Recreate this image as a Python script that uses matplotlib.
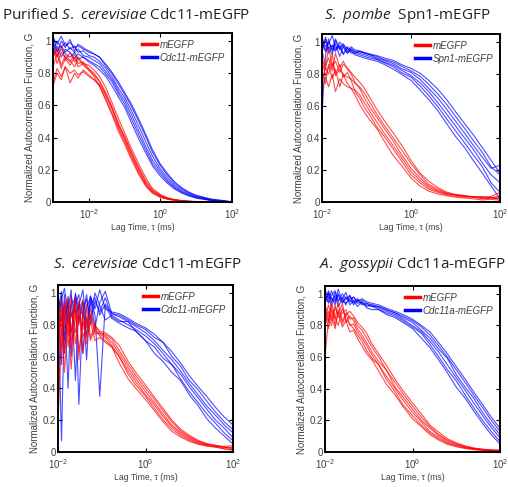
import matplotlib.pyplot as plt
from matplotlib.lines import Line2D

plt.rcParams['font.family'] = ['Liberation Sans', 'DejaVu Sans']
plt.rcParams['mathtext.fontset'] = 'custom'
plt.rcParams['mathtext.rm'] = 'Open Sans'
plt.rcParams['mathtext.it'] = 'Open Sans:italic'

# lag times (ms) of the correlator channels
lag_p1 = [0.001, 0.0013, 0.0017, 0.0022, 0.003, 0.004, 0.005, 0.007, 0.01, 0.014, 0.02, 0.03,
          0.045, 0.07, 0.1, 0.15, 0.25, 0.4, 0.6, 1.0, 1.6, 2.5, 4.0, 6.3, 10, 25, 100]
lag = [0.010, 0.012, 0.014, 0.017, 0.020, 0.025, 0.030, 0.037, 0.045, 0.055, 0.070, 0.090, 0.12, 0.17,
       0.25, 0.40, 0.60, 1.0, 1.6, 2.5, 4.0, 6.3, 10, 16, 25, 40, 63, 100]

# panel 1: purified S. cerevisiae Cdc11-mEGFP
p1_mEGFP = [
    [0.95,0.90,0.97,0.88,0.93,0.87,0.90,0.86,0.85,0.82,0.78,0.71,0.615,0.51,0.43,0.34,0.235,0.145,0.085,0.047,0.026,0.016,0.009,0.005,0.003,0.001,0.0],
    [0.84,0.92,0.83,0.89,0.85,0.90,0.84,0.86,0.82,0.79,0.75,0.68,0.59,0.48,0.41,0.32,0.215,0.128,0.075,0.041,0.023,0.014,0.008,0.0045,0.0025,0.001,0.0],
    [0.98,0.86,0.93,0.90,0.87,0.92,0.86,0.87,0.83,0.80,0.75,0.665,0.575,0.46,0.39,0.30,0.195,0.11,0.065,0.035,0.02,0.012,0.007,0.004,0.002,0.001,0.0],
    [0.74,0.83,0.78,0.84,0.80,0.82,0.79,0.81,0.78,0.76,0.72,0.64,0.55,0.445,0.375,0.285,0.18,0.10,0.058,0.031,0.018,0.011,0.006,0.0035,0.002,0.001,0.0],
    [0.90,0.95,0.85,0.91,0.88,0.84,0.89,0.85,0.82,0.78,0.72,0.63,0.54,0.43,0.36,0.27,0.17,0.095,0.055,0.029,0.017,0.01,0.006,0.003,0.0015,0.0005,0.0],
    [0.72,0.80,0.76,0.84,0.74,0.80,0.77,0.82,0.79,0.76,0.73,0.66,0.58,0.47,0.40,0.31,0.205,0.118,0.07,0.038,0.021,0.013,0.0075,0.004,0.002,0.001,0.0],
]
p1_septin = [
    [1.02,0.98,1.03,0.97,0.99,0.96,0.97,0.95,0.94,0.92,0.90,0.845,0.795,0.725,0.67,0.60,0.50,0.40,0.31,0.225,0.165,0.117,0.082,0.057,0.039,0.017,0.001],
    [0.95,1.00,0.96,0.99,0.95,0.97,0.93,0.94,0.91,0.90,0.875,0.83,0.775,0.70,0.65,0.575,0.47,0.37,0.285,0.205,0.15,0.105,0.073,0.051,0.034,0.014,0.0],
    [0.99,0.94,0.97,0.93,0.96,0.93,0.95,0.91,0.90,0.88,0.86,0.81,0.76,0.68,0.63,0.55,0.44,0.34,0.26,0.19,0.135,0.095,0.065,0.045,0.03,0.012,0.0],
    [0.92,0.97,0.90,0.95,0.93,0.89,0.92,0.90,0.88,0.86,0.84,0.795,0.745,0.665,0.61,0.525,0.415,0.32,0.24,0.175,0.125,0.087,0.06,0.041,0.027,0.011,0.0],
    [0.97,0.91,0.95,0.92,0.90,0.93,0.89,0.90,0.87,0.85,0.82,0.78,0.72,0.645,0.59,0.50,0.39,0.30,0.225,0.16,0.115,0.08,0.055,0.037,0.024,0.01,0.0],
    [1.04,0.93,1.00,0.96,1.01,0.94,0.98,0.96,0.93,0.92,0.90,0.855,0.805,0.74,0.68,0.615,0.515,0.415,0.325,0.235,0.175,0.125,0.088,0.061,0.042,0.019,0.002],
]

# panel 2: S. pombe Spn1-mEGFP
p2_mEGFP = [
    [0.80,0.74,0.86,0.77,0.83,0.72,0.80,0.74,0.71,0.67,0.61,0.56,0.51,0.46,0.38,0.29,0.23,0.15,0.10,0.068,0.05,0.04,0.03,0.025,0.02,0.012,0.018,0.01],
    [0.88,0.79,0.84,0.92,0.80,0.86,0.78,0.81,0.76,0.69,0.65,0.59,0.54,0.47,0.41,0.33,0.26,0.17,0.12,0.08,0.06,0.045,0.036,0.03,0.035,0.022,0.03,0.015],
    [0.70,0.78,0.72,0.80,0.69,0.77,0.74,0.72,0.71,0.70,0.67,0.62,0.565,0.50,0.43,0.35,0.28,0.19,0.135,0.09,0.066,0.05,0.045,0.04,0.03,0.035,0.025,0.04],
    [0.95,0.85,0.90,0.82,0.93,0.84,0.88,0.83,0.80,0.75,0.71,0.65,0.59,0.53,0.46,0.38,0.30,0.21,0.15,0.10,0.072,0.053,0.042,0.035,0.03,0.02,0.028,0.022],
    [0.76,0.84,0.80,0.87,0.79,0.83,0.80,0.78,0.77,0.74,0.72,0.68,0.62,0.55,0.48,0.40,0.33,0.24,0.17,0.11,0.08,0.057,0.044,0.036,0.03,0.027,0.02,0.03],
    [0.90,0.83,0.97,0.85,0.88,0.81,0.86,0.84,0.81,0.78,0.75,0.71,0.65,0.58,0.51,0.43,0.36,0.26,0.18,0.13,0.09,0.062,0.047,0.04,0.033,0.03,0.035,0.06],
]
p2_septin = [
    [0.55,0.92,1.02,0.94,0.99,0.91,0.97,0.93,0.95,0.92,0.91,0.90,0.89,0.88,0.86,0.83,0.80,0.76,0.70,0.64,0.57,0.49,0.41,0.34,0.26,0.18,0.10,0.02],
    [1.01,0.95,0.99,1.04,0.96,0.98,0.93,0.96,0.94,0.93,0.92,0.91,0.90,0.89,0.87,0.845,0.81,0.78,0.725,0.665,0.595,0.52,0.445,0.37,0.295,0.22,0.12,0.06],
    [0.93,1.03,0.96,0.98,0.94,1.00,0.97,0.93,0.96,0.94,0.93,0.92,0.91,0.895,0.875,0.855,0.825,0.79,0.745,0.69,0.62,0.55,0.475,0.40,0.33,0.245,0.17,0.12],
    [0.99,0.94,0.97,0.92,1.01,0.95,0.98,0.96,0.93,0.93,0.94,0.93,0.92,0.90,0.885,0.865,0.835,0.81,0.765,0.71,0.65,0.58,0.505,0.43,0.355,0.28,0.21,0.23],
    [0.96,1.02,0.93,0.98,0.95,0.97,0.92,0.97,0.95,0.94,0.94,0.93,0.92,0.91,0.89,0.875,0.85,0.82,0.785,0.735,0.675,0.61,0.535,0.46,0.385,0.31,0.22,0.17],
    [1.03,0.97,1.00,0.95,1.02,0.96,0.99,0.94,0.97,0.95,0.945,0.935,0.925,0.915,0.90,0.885,0.86,0.835,0.805,0.76,0.705,0.64,0.565,0.49,0.42,0.34,0.26,0.18],
]

# panel 3: S. cerevisiae Cdc11-mEGFP (in cells)
p3_mEGFP = [
    [0.15,0.85,0.62,0.93,0.70,0.98,0.58,0.88,0.74,0.82,0.70,0.72,0.69,0.66,0.56,0.46,0.40,0.33,0.26,0.19,0.13,0.095,0.067,0.048,0.037,0.03,0.02,0.015],
    [0.30,0.72,0.95,0.66,0.88,0.75,0.91,0.62,0.85,0.70,0.78,0.73,0.70,0.66,0.60,0.49,0.42,0.35,0.275,0.205,0.145,0.105,0.075,0.053,0.04,0.032,0.02,0.01],
    [0.55,0.96,0.78,0.86,0.52,0.90,0.80,0.96,0.68,0.84,0.76,0.74,0.72,0.67,0.60,0.51,0.44,0.36,0.295,0.225,0.16,0.115,0.082,0.058,0.044,0.036,0.03,0.025],
    [0.88,0.64,0.92,0.73,0.97,0.68,0.86,0.77,0.93,0.72,0.80,0.75,0.73,0.69,0.62,0.53,0.46,0.38,0.31,0.24,0.17,0.125,0.09,0.063,0.047,0.037,0.028,0.03],
    [0.70,0.90,0.50,0.84,0.76,0.94,0.63,0.82,0.78,0.90,0.74,0.75,0.74,0.71,0.64,0.55,0.48,0.40,0.33,0.26,0.19,0.135,0.097,0.068,0.05,0.04,0.035,0.04],
    [0.96,0.74,0.88,0.98,0.66,0.85,0.95,0.72,0.80,0.86,0.79,0.76,0.75,0.72,0.67,0.57,0.50,0.42,0.345,0.275,0.20,0.145,0.105,0.073,0.053,0.042,0.03,0.02],
]
p3_septin = [
    [0.98,0.07,0.85,0.95,0.60,1.00,0.82,0.94,0.72,0.98,0.86,0.35,0.92,0.84,0.81,0.78,0.76,0.70,0.62,0.57,0.50,0.45,0.36,0.29,0.21,0.15,0.10,0.05],
    [0.75,0.98,0.62,0.90,1.02,0.45,0.93,0.85,0.99,0.80,0.95,0.88,0.97,0.85,0.82,0.82,0.76,0.70,0.66,0.59,0.55,0.46,0.38,0.31,0.24,0.18,0.12,0.07],
    [0.94,0.55,0.99,0.80,0.92,0.97,0.30,0.90,0.96,0.84,1.00,0.92,0.83,0.86,0.83,0.80,0.77,0.73,0.68,0.62,0.55,0.49,0.41,0.34,0.27,0.20,0.15,0.09],
    [0.88,1.01,0.70,0.97,0.85,0.93,0.99,0.62,0.91,0.97,0.78,0.94,1.01,0.87,0.85,0.82,0.79,0.75,0.70,0.64,0.58,0.51,0.43,0.36,0.29,0.23,0.17,0.12],
    [1.00,0.82,0.94,0.40,0.98,0.87,0.92,1.02,0.80,0.93,0.97,0.86,0.93,0.87,0.86,0.83,0.80,0.77,0.72,0.69,0.60,0.54,0.45,0.39,0.32,0.25,0.19,0.14],
    [0.85,0.96,1.03,0.88,0.75,0.99,0.90,0.95,0.58,0.98,0.90,1.02,0.90,0.88,0.87,0.84,0.81,0.78,0.74,0.69,0.63,0.56,0.48,0.41,0.35,0.28,0.22,0.17],
]

# panel 4: A. gossypii Cdc11a-mEGFP
p4_mEGFP = [
    [0.60,0.84,0.92,0.80,0.88,0.79,0.83,0.76,0.77,0.72,0.67,0.62,0.58,0.51,0.43,0.36,0.29,0.21,0.16,0.11,0.075,0.048,0.033,0.022,0.015,0.01,0.007,0.005],
    [0.90,0.82,0.95,0.85,0.80,0.91,0.84,0.81,0.78,0.74,0.70,0.64,0.59,0.55,0.46,0.38,0.30,0.23,0.17,0.12,0.083,0.055,0.038,0.025,0.017,0.012,0.008,0.006],
    [0.84,0.93,0.86,0.78,0.90,0.83,0.88,0.80,0.81,0.76,0.72,0.67,0.61,0.55,0.48,0.40,0.33,0.25,0.19,0.13,0.092,0.061,0.042,0.028,0.019,0.013,0.009,0.007],
    [0.93,0.86,0.80,0.91,0.87,0.94,0.82,0.86,0.83,0.78,0.74,0.69,0.63,0.57,0.52,0.41,0.35,0.27,0.20,0.15,0.104,0.069,0.048,0.032,0.021,0.015,0.012,0.01],
    [0.80,0.89,0.83,0.93,0.85,0.88,0.90,0.84,0.85,0.80,0.77,0.72,0.66,0.60,0.52,0.44,0.37,0.29,0.22,0.16,0.11,0.075,0.052,0.035,0.023,0.016,0.012,0.01],
    [0.88,0.78,0.90,0.84,0.95,0.81,0.87,0.89,0.86,0.82,0.79,0.75,0.68,0.62,0.55,0.46,0.39,0.31,0.24,0.17,0.125,0.083,0.058,0.038,0.026,0.018,0.013,0.01],
]
p4_septin = [
    [0.93,1.02,0.95,0.99,0.92,0.97,1.01,0.93,0.96,0.92,0.95,0.91,0.90,0.90,0.87,0.85,0.82,0.78,0.72,0.66,0.58,0.50,0.41,0.34,0.26,0.18,0.11,0.05],
    [1.00,0.94,0.98,0.93,1.03,0.95,0.97,0.99,0.93,0.96,0.93,0.94,0.92,0.90,0.88,0.86,0.83,0.79,0.75,0.68,0.60,0.52,0.45,0.36,0.28,0.20,0.13,0.065],
    [0.96,0.99,0.92,1.01,0.95,0.98,0.94,0.97,0.98,0.94,0.95,0.92,0.93,0.91,0.89,0.87,0.84,0.80,0.76,0.70,0.63,0.55,0.47,0.39,0.31,0.23,0.155,0.09],
    [0.99,0.95,1.02,0.96,0.99,0.94,0.98,0.96,0.94,0.97,0.94,0.93,0.92,0.92,0.90,0.88,0.85,0.82,0.77,0.72,0.65,0.59,0.49,0.41,0.34,0.25,0.175,0.11],
    [0.94,1.01,0.97,0.95,1.00,0.96,0.93,0.99,0.95,0.96,0.96,0.94,0.93,0.92,0.90,0.88,0.86,0.83,0.79,0.74,0.67,0.60,0.52,0.44,0.36,0.28,0.20,0.13],
    [1.03,0.97,0.99,1.02,0.96,1.00,0.97,0.95,0.98,0.95,0.97,0.95,0.94,0.93,0.91,0.89,0.87,0.84,0.80,0.76,0.69,0.62,0.54,0.46,0.38,0.30,0.22,0.15],
]

titles = [r"Purified $\it{S.\ cerevisiae}$ Cdc11-mEGFP",
          r"$\it{S.\ pombe}$  Spn1-mEGFP",
          r"$\it{S.\ cerevisiae}$ Cdc11-mEGFP",
          r"$\it{A.\ gossypii}$ Cdc11a-mEGFP"]
septin_names = ["Cdc11-mEGFP", "Spn1-mEGFP", "Cdc11-mEGFP", "Cdc11a-mEGFP"]

panels = [
    ([0.1043, 0.5852, 0.3524, 0.3470], lag_p1, p1_mEGFP, p1_septin, (0.001, 100), (0.248, 0.969)),
    ([0.6339, 0.5852, 0.3504, 0.3450], lag, p2_mEGFP, p2_septin, (0.01, 100), (0.801, 0.969)),
    ([0.1142, 0.0719, 0.3445, 0.3429], lag, p3_mEGFP, p3_septin, (0.01, 100), (0.291, 0.456)),
    ([0.6398, 0.0719, 0.3445, 0.3409], lag, p4_mEGFP, p4_septin, (0.01, 100), (0.811, 0.456)),
]

fig = plt.figure(figsize=(5.08, 4.87), dpi=100)
grey = '#404040'

for i, (rect, x, red_traces, blue_traces, xlim, tpos) in enumerate(panels):
    ax = fig.add_axes(rect)
    for tr in blue_traces:
        ax.semilogx(x, tr, color='blue', lw=0.8, alpha=0.7)
    for tr in red_traces:
        ax.semilogx(x, tr, color='red', lw=0.8, alpha=0.7)
    ax.set_xlim(*xlim)
    ax.set_ylim(0, 1.05)
    ax.set_xticks([0.01, 1, 100])
    ax.minorticks_off()
    ax.set_yticks([0, 0.2, 0.4, 0.6, 0.8, 1.0])
    ax.set_yticklabels(['0', '0.2', '0.4', '0.6', '0.8', '1'])
    ax.tick_params(direction='in', top=True, right=True, length=3, width=0.8,
                   labelsize=7, labelcolor=grey)
    ax.tick_params(axis='y', pad=1.5)
    ax.tick_params(axis='x', pad=3.5)
    for s in ax.spines.values():
        s.set_linewidth(1.4)
    ax.set_xlabel(u"Lag Time, \u03c4 (ms)", fontsize=6.2, color=grey, labelpad=1.5)
    ax.set_ylabel("Normalized Autocorrelation Function, G", fontsize=7, color=grey, labelpad=2)
    handles = [Line2D([], [], color='red', lw=2.5), Line2D([], [], color='blue', lw=2.5)]
    ax.legend(handles, ['mEGFP', septin_names[i]], loc='upper right', frameon=False,
              prop={'style': 'italic', 'size': 7}, labelcolor=grey, handlelength=1.5,
              handletextpad=0.3, borderaxespad=0.3, labelspacing=0.3)
    fig.text(tpos[0], tpos[1], titles[i], ha='center', va='center', fontsize=11,
             family='Open Sans', color='#222222')

fig.savefig('out.png', dpi=100)
